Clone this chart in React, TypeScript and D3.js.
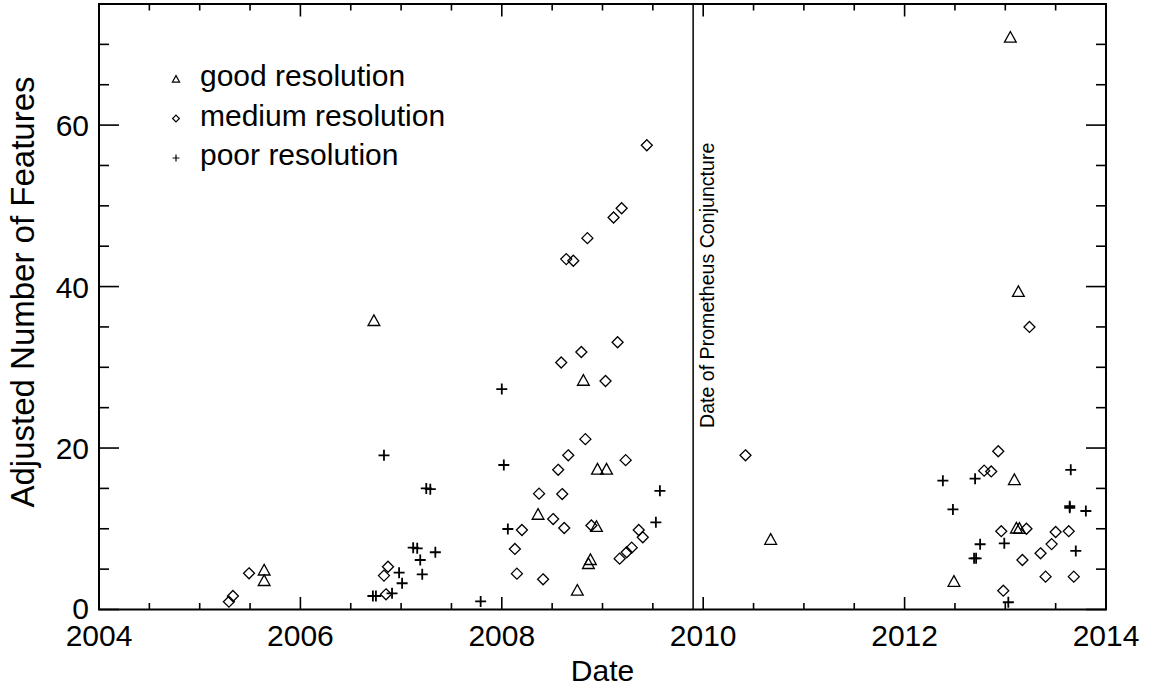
import React from "react";
import * as d3 from "d3";

// ---- data ----
const goodDates = [2005.64, 2005.64, 2006.73, 2008.36, 2008.75, 2008.81, 2008.86, 2008.88, 2008.94, 2008.95, 2009.04, 2010.67, 2012.49, 2013.05, 2013.09, 2013.11, 2013.13, 2013.14];
const goodValues = [4.9, 3.6, 35.8, 11.8, 2.4, 28.4, 5.7, 6.2, 10.3, 17.4, 17.4, 8.7, 3.5, 70.9, 16.1, 10.1, 39.4, 10.06];

const mediumDates = [2005.29, 2005.33, 2005.49, 2006.83, 2006.85, 2006.87, 2008.13, 2008.15, 2008.2, 2008.37, 2008.41, 2008.51, 2008.56, 2008.59, 2008.6, 2008.62, 2008.64, 2008.66, 2008.71, 2008.79, 2008.83, 2008.85, 2008.89, 2009.03, 2009.11, 2009.15, 2009.17, 2009.19, 2009.23, 2009.24, 2009.29, 2009.36, 2009.4, 2009.44, 2010.42, 2012.79, 2012.86, 2012.93, 2012.96, 2012.98, 2013.17, 2013.21, 2013.24, 2013.35, 2013.4, 2013.46, 2013.5, 2013.63, 2013.68];
const mediumValues = [0.97, 1.67, 4.48, 4.2, 1.88, 5.3, 7.5, 4.44, 9.85, 14.35, 3.74, 11.2, 17.3, 30.6, 14.3, 10.1, 43.4, 19.1, 43.2, 31.9, 21.1, 46.0, 10.4, 28.3, 48.55, 33.1, 6.3, 49.7, 18.5, 7.09, 7.66, 9.85, 8.95, 57.5, 19.1, 17.2, 17.1, 19.6, 9.7, 2.33, 6.13, 10.0, 35.0, 6.96, 4.07, 8.1, 9.6, 9.7, 4.07];

const poorDates = [2006.72, 2006.75, 2006.83, 2006.91, 2006.98, 2007.01, 2007.12, 2007.16, 2007.19, 2007.21, 2007.25, 2007.29, 2007.34, 2007.79, 2008.0, 2008.02, 2008.06, 2009.53, 2009.57, 2012.38, 2012.48, 2012.69, 2012.71, 2012.7, 2012.75, 2012.99, 2013.03, 2013.64, 2013.64, 2013.65, 2013.7, 2013.8];
const poorValues = [1.67, 1.67, 19.1, 2.0, 4.56, 3.25, 7.66, 7.58, 6.13, 4.36, 15.0, 14.9, 7.09, 1.0, 27.3, 17.9, 9.97, 10.8, 14.7, 15.96, 12.4, 6.34, 6.34, 16.2, 8.08, 8.2, 0.9, 12.8, 12.6, 17.3, 7.25, 12.2];

const xMajorTicks = [2004, 2006, 2008, 2010, 2012, 2014];
const yMajorTicks = [0, 20, 40, 60];
const legendLabels = ["good resolution", "medium resolution", "poor resolution"];
const conjunctionDate = 2009.9;

const W = 1168;
const H = 690;
const FONT = "'Liberation Sans', Arial, Helvetica, sans-serif";

const triPath = (s: number) => `M0,${-s * 1.0} L${s * 1.05},${s * 0.9} L${-s * 1.05},${s * 0.9} Z`;
const diaPath = (s: number) => `M0,${-s} L${s},0 L0,${s} L${-s},0 Z`;
const plusPath = (s: number) => `M${-s},0 H${s} M0,${-s} V${s}`;

export default function App() {
  const x = d3.scaleLinear().domain([2004, 2014]).range([99, 1106]);
  const y = d3.scaleLinear().domain([0, 75]).range([609.5, 4]);
  const [x0, x1] = x.range();
  const [y0, y1] = y.range();

  const xMinor = d3.range(2004, 2014.001, 0.5);
  const yMinor = d3.range(0, 75.001, 5);

  const xMajLen = 12.5, xMinLen = 6.5, yMajLen = 20, yMinLen = 10;

  return (
    <svg width={W} height={H} style={{ position: "absolute", left: 0, top: 0, background: "#fff" }} fontFamily={FONT}>
      <rect x={0} y={0} width={W} height={H} fill="#fff" />
      {/* frame */}
      <rect x={x0} y={y1} width={x1 - x0} height={y0 - y1} fill="none" stroke="#000" strokeWidth={2} />
      {/* x ticks bottom and top */}
      {xMinor.map((t) => {
        const major = Number.isInteger(t) && xMajorTicks.includes(t);
        const len = major ? xMajLen : xMinLen;
        return (
          <g key={"xt" + t}>
            <line x1={x(t)} x2={x(t)} y1={y0} y2={y0 - len} stroke="#000" strokeWidth={1.6} />
            <line x1={x(t)} x2={x(t)} y1={y1} y2={y1 + len} stroke="#000" strokeWidth={1.6} />
          </g>
        );
      })}
      {/* y ticks left and right */}
      {yMinor.map((t) => {
        const major = yMajorTicks.includes(t);
        const len = major ? yMajLen : yMinLen;
        return (
          <g key={"yt" + t}>
            <line x1={x0} x2={x0 + len} y1={y(t)} y2={y(t)} stroke="#000" strokeWidth={1.6} />
            <line x1={x1} x2={x1 - len} y1={y(t)} y2={y(t)} stroke="#000" strokeWidth={1.6} />
          </g>
        );
      })}
      {/* tick labels */}
      {xMajorTicks.map((t) => (
        <text key={"xl" + t} x={x(t)} y={646} textAnchor="middle" fontSize={30} fill="#000">
          {t}
        </text>
      ))}
      {yMajorTicks.map((t) => (
        <text key={"yl" + t} x={89} y={y(t) + (t === 0 ? 9 : 11)} textAnchor="end" fontSize={30} fill="#000">
          {t}
        </text>
      ))}
      {/* axis titles */}
      <text x={(x0 + x1) / 2} y={681} textAnchor="middle" fontSize={30} fill="#000">
        Date
      </text>
      <text transform={`translate(34, 292) rotate(-90)`} textAnchor="middle" fontSize={33} fill="#000">
        Adjusted Number of Features
      </text>
      {/* conjunction line */}
      <line x1={x(conjunctionDate)} x2={x(conjunctionDate)} y1={y0} y2={y1} stroke="#000" strokeWidth={1.5} />
      <text transform={`translate(${x(conjunctionDate) + 20.5}, 428) rotate(-90)`} fontSize={19.6} fill="#000">
        Date of Prometheus Conjuncture
      </text>
      {/* data */}
      {goodDates.map((d, i) => (
        <path key={"g" + i} d={triPath(5.6)} transform={`translate(${x(d)},${y(goodValues[i])})`} fill="none" stroke="#000" strokeWidth={1.3} />
      ))}
      {mediumDates.map((d, i) => (
        <path key={"m" + i} d={diaPath(5.5)} transform={`translate(${x(d)},${y(mediumValues[i])})`} fill="none" stroke="#000" strokeWidth={1.3} />
      ))}
      {poorDates.map((d, i) => (
        <path key={"p" + i} d={plusPath(5.5)} transform={`translate(${x(d)},${y(poorValues[i])})`} fill="none" stroke="#000" strokeWidth={1.8} />
      ))}
      {/* legend */}
      {legendLabels.map((lab, i) => {
        const by = 86 + i * 39.5;
        const my = by - 7;
        const mk = i === 0 ? triPath(3.4) : i === 1 ? diaPath(3.4) : plusPath(3.4);
        return (
          <g key={"lg" + i}>
            <path d={mk} transform={`translate(176,${my})`} fill="none" stroke="#000" strokeWidth={1.2} />
            <text x={200} y={by} fontSize={30} fill="#000">
              {lab}
            </text>
          </g>
        );
      })}
    </svg>
  );
}
